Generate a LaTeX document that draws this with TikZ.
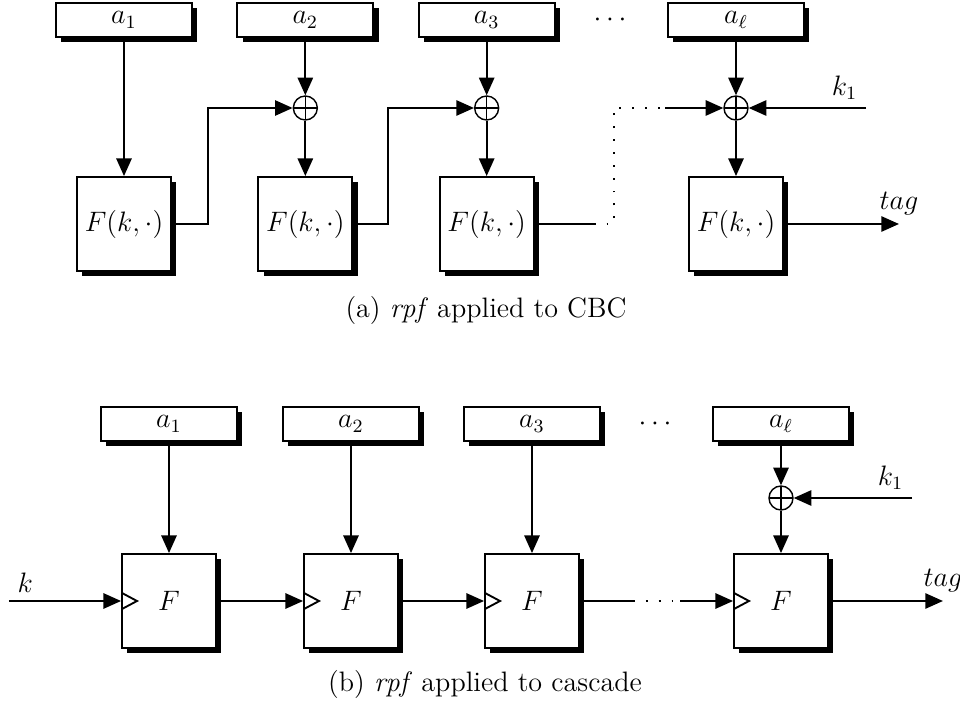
\documentclass[tikz,border=0pt]{standalone}
\usetikzlibrary{arrows.meta,shadows}

\begin{document}
\begin{tikzpicture}[
    inbox/.style={
        rectangle,
        draw,
        thick,
        fill=white,
        minimum width=2.04cm,
        minimum height=0.51cm,
        font=\large,
        drop shadow={opacity=1, fill=black, shadow xshift=2.3pt, shadow yshift=-2.3pt}
    },
    prfbox/.style={
        rectangle,
        draw,
        thick,
        fill=white,
        minimum size=1.41cm,
        font=\large,
        drop shadow={opacity=1, fill=black, shadow xshift=2.3pt, shadow yshift=-2.3pt}
    },
    clocked/.style={
        path picture={
            \draw[thick] ([yshift=0.12cm]path picture bounding box.west)
                -- ++(0.225,-0.12) -- ([yshift=-0.12cm]path picture bounding box.west);
        }
    },
    xor/.style={
        circle,
        draw,
        semithick,
        fill=white,
        inner sep=0pt,
        minimum size=0.36cm,
        path picture={
            \draw[semithick] (path picture bounding box.north) -- (path picture bounding box.south)
                (path picture bounding box.west) -- (path picture bounding box.east);
        }
    },
    label/.style={
        font=\large
    },
    arrow/.style={
        -{Triangle[length=7.5pt,width=6.5pt]},
        thick
    },
    dotline/.style={
        thick,
        dash pattern=on 0.8pt off 4.7pt
    }
]
\useasboundingbox (0,0) rectangle (14.4,10.53);

% (a) CBC
\node[inbox] (a1) at (1.86,10.23) {$a_1$};
\node[inbox] (a2) at (4.58,10.23) {$a_2$};
\node[inbox] (a3) at (7.30,10.23) {$a_3$};
\node[label] (adots) at (9.15,10.23) {$\cdots$};
\node[inbox] (al) at (11.04,10.23) {$a_\ell$};

\node[xor] (x2) at (4.58,8.91) {};
\node[xor] (x3) at (7.30,8.91) {};
\node[xor] (xl) at (11.04,8.91) {};

\node[prfbox] (f1) at (1.86,7.17) {$F(k,\cdot)$};
\node[prfbox] (f2) at (4.58,7.17) {$F(k,\cdot)$};
\node[prfbox] (f3) at (7.30,7.17) {$F(k,\cdot)$};
\node[prfbox] (fl) at (11.04,7.17) {$F(k,\cdot)$};

\draw[arrow] (a1) -- (f1);
\draw[arrow] (a2) -- (x2);
\draw[arrow] (x2) -- (f2);
\draw[arrow] (a3) -- (x3);
\draw[arrow] (x3) -- (f3);
\draw[arrow] (al) -- (xl);
\draw[arrow] (xl) -- (fl);

\draw[arrow] (f1.east) -- ++(0.54,0) |- (x2);
\draw[arrow] (f2.east) -- ++(0.525,0) |- (x3);

\coordinate (d2) at (9.975,8.91);
\draw[thick] (f3.east) -- ++(0.885,0) coordinate (d1);
\draw[dotline] (d1) -- ++(0.3,0) |- (d2);
\draw[arrow] (d2) -- (xl);

\coordinate (k1a) at (12.99,8.91);
\draw[arrow] (k1a) node[label, above left] {$k_1$} -- (xl);
\draw[arrow] (fl.east) -- ++(1.725,0) node[label, above] {$tag$};

\node[label] (capa) at (7.29,5.88) {(a) \emph{rpf} applied to CBC};

% (b) cascade
\node[inbox] (b1) at (2.535,4.17) {$a_1$};
\node[inbox] (b2) at (5.265,4.17) {$a_2$};
\node[inbox] (b3) at (7.98,4.17) {$a_3$};
\node[label] (bdots) at (9.825,4.17) {$\cdots$};
\node[inbox] (bl) at (11.715,4.17) {$a_\ell$};

\node[xor] (bx) at (11.715,3.06) {};

\node[prfbox, clocked] (g1) at (2.535,1.515) {$F$};
\node[prfbox, clocked] (g2) at (5.265,1.515) {$F$};
\node[prfbox, clocked] (g3) at (7.98,1.515) {$F$};
\node[prfbox, clocked] (gl) at (11.715,1.515) {$F$};

\draw[arrow] (b1) -- (g1);
\draw[arrow] (b2) -- (g2);
\draw[arrow] (b3) -- (g3);
\draw[arrow] (bl) -- (bx);
\draw[arrow] (bx) -- (gl);

\coordinate (kin) at (0.135,1.515);
\draw[arrow] (kin) node[label, above right] {$k$} -- (g1);
\draw[arrow] (g1) -- (g2);
\draw[arrow] (g2) -- (g3);

\coordinate (e2) at (10.2,1.515);
\draw[thick] (g3.east) -- ++(0.795,0) coordinate (e1);
\draw[dotline] (e1) -- (e2);
\draw[arrow] (e2) -- (gl);

\coordinate (k1b) at (13.68,3.06);
\draw[arrow] (k1b) node[label, above left] {$k_1$} -- (bx);
\draw[arrow] (gl.east) -- ++(1.71,0) node[label, above] {$tag$};

\node[label] (capb) at (7.275,0.27) {(b) \emph{rpf} applied to cascade};

\end{tikzpicture}
\end{document}
